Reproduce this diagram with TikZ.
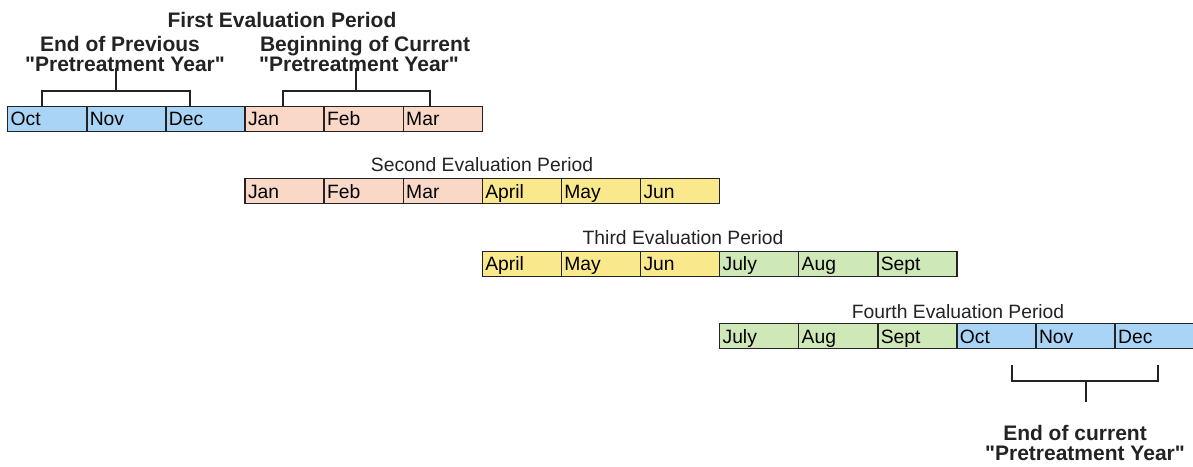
\documentclass[tikz,border=0pt]{standalone}
\usepackage{fontspec}
\setmainfont{Liberation Sans}
\newfontfamily\labfont{Liberation Sans}
\definecolor{cblue}{RGB}{170,212,245}
\definecolor{cpeach}{RGB}{249,216,200}
\definecolor{cyellow}{RGB}{250,232,140}
\definecolor{cgreen}{RGB}{207,232,184}
\definecolor{ink}{RGB}{35,35,35}
\begin{document}
\begin{tikzpicture}[x=1pt,y=-1pt,
  cell/.style={draw=ink, line width=1.4pt, anchor=north west, minimum width=79.1pt,
    minimum height=25pt, inner xsep=3pt, inner ysep=0pt, text width=73.1pt, align=left,
    text height=13.9pt, text depth=0pt, font=\labfont\fontsize{19.3}{20}\selectfont},
  boldlabel/.style={inner sep=0pt, text height=15.1pt, text depth=0pt, text=ink,
    font=\labfont\fontsize{21}{22}\selectfont\bfseries},
  periodtitle/.style={inner sep=0pt, text height=13.9pt, text depth=0pt, text=ink,
    font=\labfont\fontsize{19.3}{20}\selectfont},
  brk/.style={draw=ink, line width=1.8pt}
]
\fill[white] (0,0) rectangle (1193,466);
\useasboundingbox (0,0) rectangle (1193,466);

% row 1
\foreach \m/\c [count=\i from 0] in {Oct/cblue,Nov/cblue,Dec/cblue,Jan/cpeach,Feb/cpeach,Mar/cpeach}
  \node[cell, fill=\c] (a\i) at ({7+79.1*\i},105.5) {\m};
% row 2
\foreach \m/\c [count=\i from 0] in {Jan/cpeach,Feb/cpeach,Mar/cpeach,April/cyellow,May/cyellow,Jun/cyellow}
  \node[cell, fill=\c] (b\i) at ({7+79.1*(\i+3)},178) {\m};
% row 3
\foreach \m/\c [count=\i from 0] in {April/cyellow,May/cyellow,Jun/cyellow,July/cgreen,Aug/cgreen,Sept/cgreen}
  \node[cell, fill=\c] (c\i) at ({7+79.1*(\i+6)},250.5) {\m};
% row 4
\foreach \m/\c [count=\i from 0] in {July/cgreen,Aug/cgreen,Sept/cgreen,Oct/cblue,Nov/cblue,Dec/cblue}
  \node[cell, fill=\c] (d\i) at ({7+79.1*(\i+9)},323) {\m};

% titles and labels
\node[boldlabel] (t1) at (282,20) {First Evaluation Period};
\node[boldlabel] (l1a) at (120,44) {End of Previous};
\node[boldlabel] (l1b) at (125,64) {"Pretreatment Year"};
\node[boldlabel] (l2a) at (365,44) {Beginning of Current};
\node[boldlabel] (l2b) at (359,64) {"Pretreatment Year"};
\node[periodtitle] (t2) at (482,165) {Second Evaluation Period};
\node[periodtitle] (t3) at (683,238) {Third Evaluation Period};
\node[periodtitle] (t4) at (958,312) {Fourth Evaluation Period};
\node[boldlabel] (l4a) at (1075,433) {End of current};
\node[boldlabel] (l4b) at (1085,453) {"Pretreatment Year"};

% brackets
\coordinate (p1l) at (42,106);
\coordinate (p1r) at (190,106);
\coordinate (p1m) at (116,91);
\coordinate (p1s) at (116,68);
\draw[brk] (p1l) |- (p1m) -| (p1r);
\draw[brk] (p1m) -- (p1s);

\coordinate (p2l) at (283,106);
\coordinate (p2r) at (430,106);
\coordinate (p2m) at (356,91);
\coordinate (p2s) at (356,68);
\draw[brk] (p2l) |- (p2m) -| (p2r);
\draw[brk] (p2m) -- (p2s);

\coordinate (p4l) at (1012,365);
\coordinate (p4r) at (1158,365);
\coordinate (p4m) at (1086,381);
\coordinate (p4s) at (1086,402);
\draw[brk] (p4l) |- (p4m) -| (p4r);
\draw[brk] (p4m) -- (p4s);
\end{tikzpicture}
\end{document}
